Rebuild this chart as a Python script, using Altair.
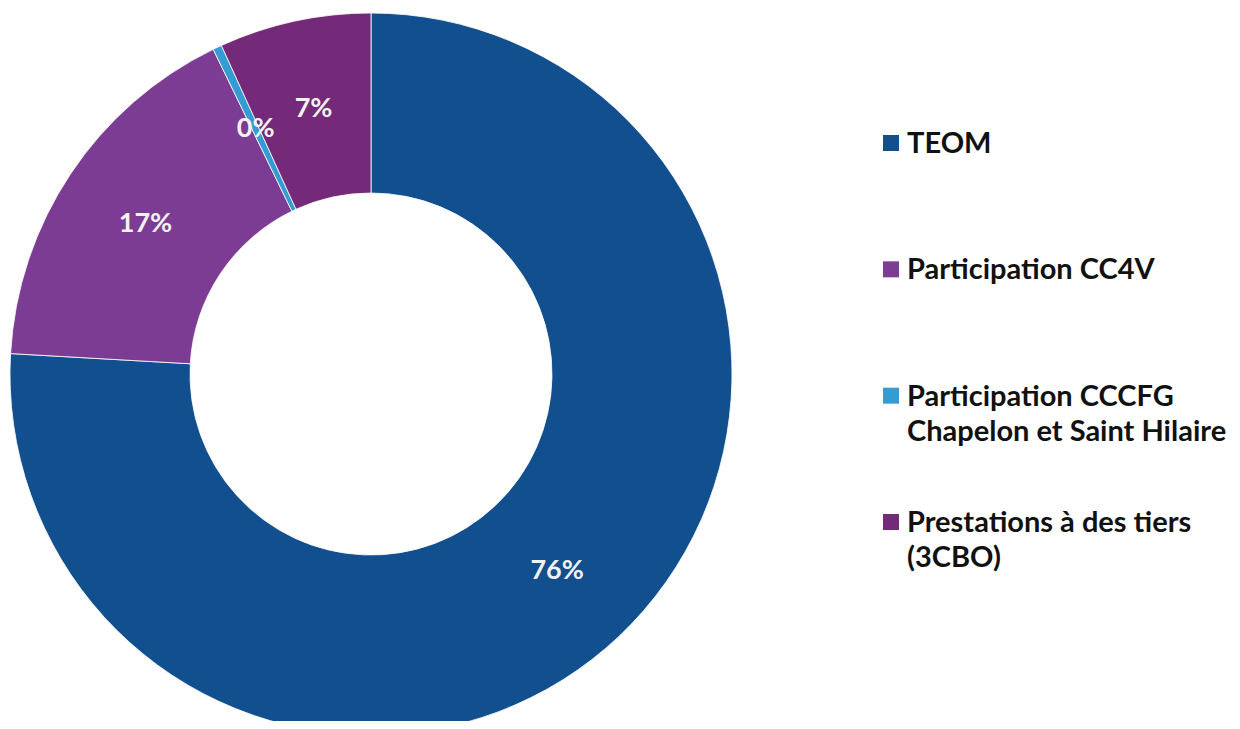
import altair as alt
import pandas as pd

categories = [
    "TEOM",
    "Participation CC4V",
    "Participation CCCFG Chapelon et Saint Hilaire",
    "Prestations à des tiers (3CBO)",
]
legend_text = [
    "TEOM",
    "Participation CC4V",
    "Participation CCCFG\nChapelon et Saint Hilaire",
    "Prestations à des tiers\n(3CBO)",
]
shares = [75.9, 16.9, 0.4, 6.8]
pct_labels = ["76%", "17%", "0%", "7%"]
colors = ["#124F8F", "#7D3C94", "#359BD3", "#742A78"]

df = pd.DataFrame({
    "cat": categories,
    "legend": legend_text,
    "share": shares,
    "label": pct_labels,
    "idx": list(range(len(categories))),
})

color = alt.Color("cat:N", scale=alt.Scale(domain=categories, range=colors), legend=None)
cx, cy = 363, 366

base = alt.Chart(df)

arcs = base.mark_arc(outerRadius=361, innerRadius=181, stroke="#ffffff", strokeWidth=0.8).encode(
    theta=alt.Theta("share:Q", stack=True),
    order=alt.Order("idx:Q"),
    color=color,
    x=alt.value(cx),
    y=alt.value(cy),
)

pct = base.mark_text(font="Lato", fontWeight="bold", fontSize=27, color="#F2F2F2",
                     align="center", baseline="middle").encode(
    theta=alt.Theta("share:Q", stack=True),
    order=alt.Order("idx:Q"),
    radius=alt.value(271),
    text="label:N",
    x=alt.value(cx),
    y=alt.value(cy),
)

row_scale = alt.Scale(domain=[-1.0686, 4.575], nice=False, zero=False, reverse=True)

squares = base.mark_square(size=256, opacity=1).encode(
    x=alt.value(883),
    y=alt.Y("idx:Q", scale=row_scale, axis=None),
    color=color,
)

leg_text = base.mark_text(font="Lato", fontWeight="bold", fontSize=29, color="#111111",
                          align="left", baseline="alphabetic", lineBreak="\n",
                          lineHeight=35, dy=10).encode(
    x=alt.value(899),
    y=alt.Y("idx:Q", scale=row_scale, axis=None),
    text="legend:N",
)

chart = alt.layer(arcs, pct, squares, leg_text).properties(
    width=1224, height=713, padding=0, autosize=alt.AutoSizeParams(type="none"),
    background="#ffffff",
).configure_view(stroke=None)

chart.save("out.html", embed_options={"renderer": "svg", "actions": False})
